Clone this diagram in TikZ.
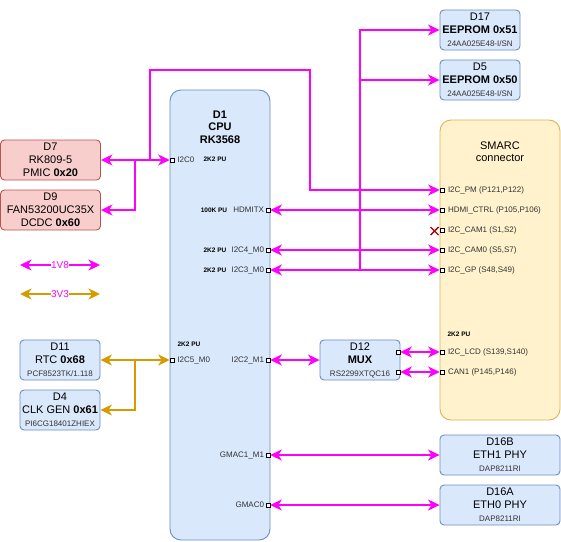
\documentclass[tikz,border=0pt]{standalone}
\usepackage{fontspec}
\setmainfont{Liberation Sans}
\usetikzlibrary{arrows.meta, positioning}
\definecolor{busmag}{RGB}{255, 0, 255}
\definecolor{busorg}{RGB}{215, 155, 0}
\definecolor{redfill}{RGB}{248, 206, 204}
\definecolor{redline}{RGB}{184, 84, 80}
\definecolor{bluefill}{RGB}{218, 232, 252}
\definecolor{blueline}{RGB}{108, 142, 191}
\definecolor{yelfill}{RGB}{255, 242, 204}
\definecolor{yelline}{RGB}{214, 182, 86}
\definecolor{pintext}{RGB}{51, 51, 51}
\definecolor{xred}{RGB}{178, 0, 0}
\newcommand{\partno}[1]{{\fontsize{8}{10}\selectfont\color{pintext}#1}}
\tikzset{
	chip/.style={draw=blueline, fill=bluefill, line width=0.9pt, rounded corners=4pt,
		minimum width=80pt, minimum height=40pt, inner sep=0pt, align=center,
		font=\fontsize{11}{13}\selectfont},
	pmchip/.style={chip, draw=redline, fill=redfill, minimum width=100pt},
	widechip/.style={chip, minimum width=120pt},
	port/.style={draw=black, fill=white, line width=0.6pt, minimum size=4pt, inner sep=0pt},
	pinlabel/.style={inner sep=0pt, text=pintext, font=\fontsize{8}{9}\selectfont},
	pullup/.style={inner sep=0pt, font=\fontsize{6.5}{8}\selectfont\bfseries},
	titletext/.style={inner sep=0pt, align=center, font=\fontsize{11}{12.5}\selectfont\bfseries},
	bus18/.style={draw=busmag, line width=2pt},
	bus33/.style={draw=busorg, line width=2pt},
	>={Stealth[length=11.5pt, width=11pt, inset=3.5pt]}
}

\begin{document}
\begin{tikzpicture}[x=1pt, y=-1pt]
		\useasboundingbox (0,0) rectangle (561,541);
		
		% big blocks
		\node[chip, rounded corners=11pt, minimum width=100pt, minimum height=450pt] (cpu) at (220,315) {};
		\node[titletext] (cpuTitle) at (220,127) {D1\\CPU\\RK3568};
		\node[widechip, draw=yelline, fill=yelfill, rounded corners=11pt, minimum height=300pt] (smarc) at (500,270) {};
		\node[titletext, font=\fontsize{11}{12.5}\selectfont] (smTitle) at (500,151.5) {SMARC\\connector};
		
		% small chips
		\node[pmchip] (d7) at (50.5,160) {D7\\RK809-5\\PMIC \textbf{0x20}};
		\node[pmchip] (d9) at (50.5,210) {D9\\FAN53200UC35X\\DCDC \textbf{0x60}};
		\node[chip] (d17) at (480,30) {D17\\\textbf{EEPROM 0x51}\\\partno{24AA025E48-I/SN}};
		\node[chip] (d5) at (480,80) {D5\\\textbf{EEPROM 0x50}\\\partno{24AA025E48-I/SN}};
		\node[chip] (d11) at (60,360) {D11\\RTC \textbf{0x68}\\\partno{PCF8523TK/1.118}};
		\node[chip] (d4) at (60,410) {D4\\CLK GEN \textbf{0x61}\\\partno{PI6CG18401ZHIEX}};
		\node[chip] (d12) at (360,360) {D12\\\textbf{MUX}\\\partno{RS2299XTQC16}};
		\node[widechip] (d16b) at (500,455) {D16B\\ETH1 PHY\\\partno{DAP8211RI}};
		\node[widechip] (d16a) at (500,505) {D16A\\ETH0 PHY\\\partno{DAP8211RI}};
		
		% CPU pins
		\node[port] (cpuI2C0) at (172,160) {};
		\node[port] (cpuI2C5) at (172,360) {};
		\node[port] (cpuHDMI) at (268,210) {};
		\node[port] (cpuI2C4) at (268,250) {};
		\node[port] (cpuI2C3) at (268,270) {};
		\node[port] (cpuI2C2) at (268,360) {};
		\node[port] (cpuGMAC1) at (268,455) {};
		\node[port] (cpuGMAC0) at (268,505) {};
		\node[pinlabel, right=3pt of cpuI2C0] (tI2C0) {I2C0};
		\node[pinlabel, right=3pt of cpuI2C5] (tI2C5) {I2C5\_M0};
		\node[pinlabel, left=1.5pt of cpuHDMI] (tHDMI) {HDMITX};
		\node[pinlabel, left=1.5pt of cpuI2C4] (tI2C4) {I2C4\_M0};
		\node[pinlabel, left=1.5pt of cpuI2C3] (tI2C3) {I2C3\_M0};
		\node[pinlabel, left=1.5pt of cpuI2C2] (tI2C2) {I2C2\_M1};
		\node[pinlabel, left=1.5pt of cpuGMAC1] (tGMAC1) {GMAC1\_M1};
		\node[pinlabel, left=1.5pt of cpuGMAC0] (tGMAC0) {GMAC0};
		\node[pullup] (puI2C0) at (215,159) {2K2 PU};
		\node[pullup] (puHDMI) at (214,210) {100K PU};
		\node[pullup] (puI2C4) at (215,250) {2K2 PU};
		\node[pullup] (puI2C3) at (215,270) {2K2 PU};
		\node[pullup] (puI2C5) at (189,344) {2K2 PU};
		
		% SMARC pins
		\node[port] (smPM) at (442,190) {};
		\node[port] (smHDMI) at (442,210) {};
		\node[port] (smCAM1) at (442,230) {};
		\node[port] (smCAM0) at (442,250) {};
		\node[port] (smGP) at (442,270) {};
		\node[port] (smLCD) at (442,352) {};
		\node[port] (smCAN) at (442,372) {};
		\node[pinlabel, right=3.5pt of smPM] (tPM) {I2C\_PM (P121,P122)};
		\node[pinlabel, right=3.5pt of smHDMI] (tHDMIC) {HDMI\_CTRL (P105,P106)};
		\node[pinlabel, right=3.5pt of smCAM1] (tCAM1) {I2C\_CAM1 (S1,S2)};
		\node[pinlabel, right=3.5pt of smCAM0] (tCAM0) {I2C\_CAM0 (S5,S7)};
		\node[pinlabel, right=3.5pt of smGP] (tGP) {I2C\_GP (S48,S49)};
		\node[pinlabel, right=3.5pt of smLCD] (tLCD) {I2C\_LCD (S139,S140)};
		\node[pinlabel, right=3.5pt of smCAN] (tCAN) {CAN1 (P145,P146)};
		\node[pullup] (puLCD) at (459,334) {2K2 PU};
		\draw[xred, line width=1.4pt] (430.5,227) -- (438.5,235) (430.5,235) -- (438.5,227);
		
		% MUX pins
		\node[port] (muxA) at (398,352) {};
		\node[port] (muxB) at (398,372) {};
		
		% junctions and bends
		\coordinate (jA) at (135,160);
		\coordinate (jB) at (150,160);
		\coordinate (pmA) at (150,70);
		\coordinate (pmB) at (310,70);
		\coordinate (jC) at (360,270);
		\coordinate (jD) at (jC |- d5.west);
		\coordinate (jE) at (135,360);
		
		% 1V8 buses
		\draw[bus18, <->] (d7.east) -- (cpuI2C0.west);
		\draw[bus18, ->] (jA) |- (d9.east);
		\draw[bus18, ->] (jB) -- (pmA) -- (pmB) |- (smPM.west);
		\draw[bus18, <->] (cpuHDMI.east) -- (smHDMI.west);
		\draw[bus18, <->] (cpuI2C4.east) -- (smCAM0.west);
		\draw[bus18, <->] (cpuI2C3.east) -- (smGP.west);
		\draw[bus18, ->] (jC) |- (d17.west);
		\draw[bus18, ->] (jD) -- (d5.west);
		\draw[bus18, <->] (cpuI2C2.east) -- (d12.west);
		\draw[bus18, <->] (muxA.east) -- (smLCD.west);
		\draw[bus18, <->] (muxB.east) -- (smCAN.west);
		\draw[bus18, <->] (cpuGMAC1.east) -- (d16b.west);
		\draw[bus18, <->] (cpuGMAC0.east) -- (d16a.west);
		
		% 3V3 bus
		\draw[bus33, <->] (d11.east) -- (cpuI2C5.west);
		\draw[bus33, ->] (jE) |- (d4.east);
		
		% legend
		\coordinate (lgA) at (20,265);
		\coordinate (lgB) at (100,265);
		\coordinate (lgC) at (20,294);
		\coordinate (lgD) at (100,294);
		\draw[bus18, <->] (lgA) -- node[fill=white, inner sep=0.5pt, text=busmag, font=\fontsize{10}{12}\selectfont] (tV18) {1V8} (lgB);
		\draw[bus33, <->] (lgC) -- node[fill=white, inner sep=0.5pt, text=busmag, font=\fontsize{10}{12}\selectfont] (tV33) {3V3} (lgD);
	\end{tikzpicture}
\end{document}
